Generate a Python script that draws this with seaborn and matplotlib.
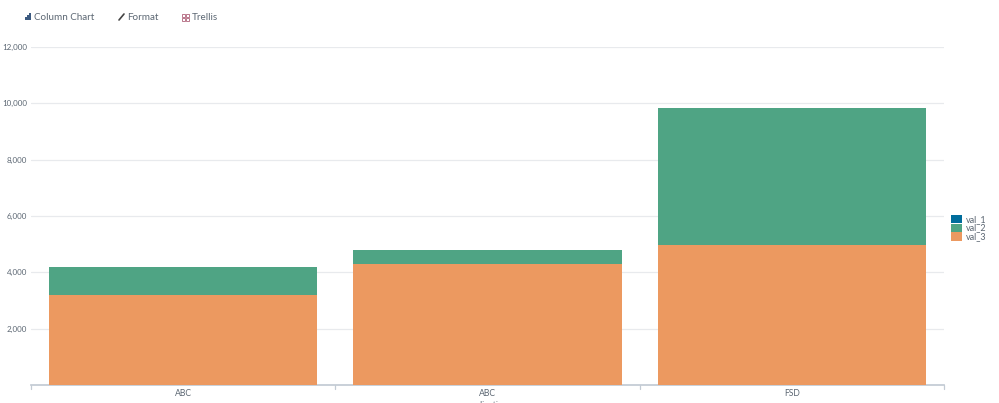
import matplotlib
matplotlib.use('Agg')
import matplotlib.pyplot as plt
import pandas as pd
import seaborn as sns
from matplotlib.patches import Rectangle

# values
categories = ['ABC', 'ABC', 'FSD']
val_1 = [0, 0, 0]
val_2 = [1000, 480, 4860]
val_3 = [3200, 4300, 4970]
y_ticks = [2000, 4000, 6000, 8000, 10000, 12000]
menu_items = ['Column Chart', 'Format', 'Trellis']
series_names = ['val_1', 'val_2', 'val_3']

colors = {'val_1': '#006d9c', 'val_2': '#4fa484', 'val_3': '#ec9960'}
TEXT = '#5c6773'
W, H = 999, 403

sns.set_theme(style='white')
plt.rcParams['font.family'] = ['Lato', 'DejaVu Sans']

df = pd.DataFrame({'slot': [0, 1, 2], 'val_1': val_1, 'val_2': val_2, 'val_3': val_3})
df['top_2'] = df['val_3'] + df['val_2']
df['top_1'] = df['top_2'] + df['val_1']

fig = plt.figure(figsize=(W / 100, H / 100), dpi=100)
ax = fig.add_axes([31 / W, 1 - 385 / H, 913 / W, 338 / H])

# stacked columns, tallest first
bar_kw = dict(x='slot', width=0.882, saturation=1, linewidth=0, ax=ax, zorder=3)
sns.barplot(data=df, y='top_1', color=colors['val_1'], **bar_kw)
sns.barplot(data=df, y='top_2', color=colors['val_2'], **bar_kw)
sns.barplot(data=df, y='val_3', color=colors['val_3'], **bar_kw)

ax.set_xlim(-0.5, 2.5)
ax.set_ylim(0, 12000)
ax.set_xticks([0, 1, 2])
ax.set_xticklabels(categories, fontsize=6.2, color=TEXT)
ax.set_yticks(y_ticks)
ax.set_yticklabels([f'{v:,}' for v in y_ticks], fontsize=5.8, color=TEXT)
ax.set_xlabel('')
ax.set_ylabel('')
ax.grid(axis='y', color='#e8eaed', lw=0.9, zorder=0)
ax.set_axisbelow(True)
for s in ['top', 'right', 'left']:
    ax.spines[s].set_visible(False)
ax.spines['bottom'].set_color('#c3cbd4')
ax.tick_params(axis='x', length=0, pad=3)
ax.tick_params(axis='y', length=0, pad=3)
# ticks between the categories
for b in [-0.5, 0.5, 1.5, 2.5]:
    ax.plot([b, b], [0, -0.012], color='#c3cbd4', lw=0.9, clip_on=False,
            transform=ax.get_xaxis_transform())

# axis title is cut off by the bottom of the image
fig.text(488 / W, 1 - 400.5 / H, 'application', ha='center', va='top', fontsize=6.2, color=TEXT)

# legend
for i, name in enumerate(series_names):
    y = 215 + i * 8.5
    fig.add_artist(Rectangle((951 / W, 1 - (y + 8.5) / H), 11 / W, 8.5 / H, color=colors[name], lw=0,
                             transform=fig.transFigure))
    fig.text(966 / W, 1 - (y + 4.5) / H, name, ha='left', va='center', fontsize=6.5, color=TEXT)

# menu bar
menu_x = [34, 127, 192]
for x, item in zip(menu_x, menu_items):
    fig.text(x / W, 1 - 17 / H, item, ha='left', va='center', fontsize=7.1, color=TEXT)
for x, y0, h in [(25, 20, 3), (27, 20, 5), (29, 20, 7)]:
    fig.add_artist(Rectangle((x / W, 1 - y0 / H), 1.5 / W, h / H, color='#3c5a80', lw=0, transform=fig.transFigure))
fig.add_artist(plt.Line2D([119 / W, 124 / W], [1 - 20 / H, 1 - 14 / H], color='#444444', lw=1.2))
for x in [182, 186]:
    for y in [14, 18]:
        fig.add_artist(Rectangle((x / W, 1 - (y + 3) / H), 3 / W, 3 / H, fill=False, ec='#b0627a', lw=0.6,
                                 transform=fig.transFigure))

fig.savefig('out.png', dpi=100)
